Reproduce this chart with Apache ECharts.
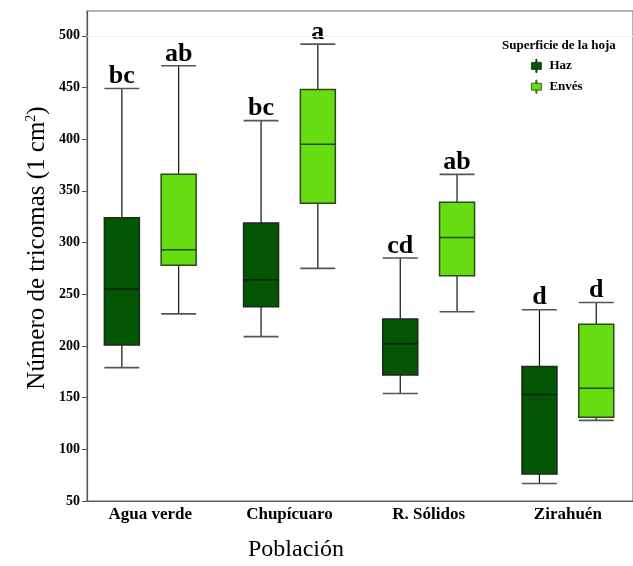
<!DOCTYPE html>
<html>
<head>
<meta charset="utf-8">
<script src="https://cdn.jsdelivr.net/npm/echarts@6/dist/echarts.min.js"></script>
<style>html,body{margin:0;padding:0;background:#fff}#c{width:633px;height:566px}</style>
</head>
<body>
<div id="c"></div>
<script>
const categories = ['Agua verde', 'Chupícuaro', 'R. Sólidos', 'Zirahuén'];
const seriesNames = ['Haz', 'Envés'];
// [min, Q1, median, Q3, max]
const hazValues = [
  [179, 201, 255, 324, 449],
  [209, 238, 264, 319, 418],
  [154, 172, 202, 226, 285],
  [67, 76, 153, 180, 235]
];
const envesValues = [
  [231, 278, 293, 366, 471],
  [275, 338, 395, 448, 492],
  [233, 268, 305, 339, 366],
  [128, 131, 159, 221, 242]
];
const hazLetters = ['bc', 'bc', 'cd', 'd'];
const envesLetters = ['ab', 'a', 'ab', 'd'];
const yTicks = [50, 100, 150, 200, 250, 300, 350, 400, 450, 500];

const SERIF = '"Liberation Serif", "DejaVu Serif", serif';
const OFFSET = 0.204;
const BOXW = 0.2514;

function buildData(values, letters, side) {
  return values.map((v, i) => [i + side * OFFSET, v[0], v[1], v[2], v[3], v[4], letters[i]]);
}

function makeRender(fill, border, medColor) {
  return function (params, api) {
    const x = api.value(0);
    const lo = api.coord([x, api.value(1)]);
    const q1 = api.coord([x, api.value(2)]);
    const md = api.coord([x, api.value(3)]);
    const q3 = api.coord([x, api.value(4)]);
    const hi = api.coord([x, api.value(5)]);
    const w = api.size([BOXW, 0])[0];
    const cx = lo[0];
    const l = cx - w / 2, r = cx + w / 2;
    return {
      type: 'group',
      children: [
        { type: 'line', shape: { x1: cx, y1: hi[1], x2: cx, y2: q3[1] }, style: { stroke: '#111', lineWidth: 1.2 } },
        { type: 'line', shape: { x1: cx, y1: q1[1], x2: cx, y2: lo[1] }, style: { stroke: '#111', lineWidth: 1.2 } },
        { type: 'line', shape: { x1: l, y1: hi[1], x2: r, y2: hi[1] }, style: { stroke: '#555', lineWidth: 1.6 } },
        { type: 'line', shape: { x1: l, y1: lo[1], x2: r, y2: lo[1] }, style: { stroke: '#555', lineWidth: 1.6 } },
        { type: 'rect', shape: { x: l, y: q3[1], width: w, height: q1[1] - q3[1] }, style: { fill: fill, stroke: border, lineWidth: 1.5 } },
        { type: 'line', shape: { x1: l, y1: md[1], x2: r, y2: md[1] }, style: { stroke: medColor, lineWidth: 1.5 } },
        { type: 'text', style: { text: api.value(6), x: cx, y: hi[1] + 1, align: 'center', verticalAlign: 'bottom', fontFamily: SERIF, fontSize: 26, fontWeight: 'bold', fill: '#000' } }
      ]
    };
  };
}

const chart = echarts.init(document.getElementById('c'), null, { renderer: 'canvas' });
const legendIcon = 'path://M4.4,0H5.6V3H4.4Z M0,3H10V10H0Z M4.4,10H5.6V13H4.4Z';
chart.setOption({
  animation: false,
  backgroundColor: '#fff',
  grid: { left: 87, right: -2, top: 11, bottom: 65, show: true, borderColor: '#666', borderWidth: 1, backgroundColor: 'transparent' },
  title: {
    text: 'Superficie de la hoja', left: 497, top: 34,
    textStyle: { fontFamily: SERIF, fontSize: 13, fontWeight: 'bold', color: '#000' }
  },
  legend: {
    orient: 'vertical', left: 526, top: 54, itemGap: 7,
    itemWidth: 10, itemHeight: 13,
    data: [
      { name: 'Haz', icon: legendIcon, itemStyle: { color: '#035603', borderColor: '#1b2b1b', borderWidth: 0.8 } },
      { name: 'Envés', icon: legendIcon, itemStyle: { color: '#66dd11', borderColor: '#2a4a1a', borderWidth: 0.8 } }
    ],
    textStyle: { fontFamily: SERIF, fontSize: 13, fontWeight: 'bold', color: '#000', padding: [0, 0, 0, 3] }
  },
  graphic: [
    {
      type: 'text', left: 248, top: 538, silent: true,
      style: { text: 'Población', fontFamily: SERIF, fontSize: 24, fill: '#000' }
    },
    {
      type: 'text', x: 37, y: 248, rotation: Math.PI / 2, silent: true,
      style: {
        text: '{a|Número de tricomas (1 cm}{s|2}{a|)}', align: 'center', verticalAlign: 'middle',
        rich: {
          a: { fontFamily: SERIF, fontSize: 25, fill: '#000' },
          s: { fontFamily: SERIF, fontSize: 14, fill: '#000', verticalAlign: 'top', padding: [0, 0, 10, 0] }
        }
      }
    }
  ],
  xAxis: {
    type: 'value', min: -0.4544, max: 3.468,
    axisLine: { show: true, onZero: false, lineStyle: { color: '#555', width: 1.2 } },
    axisTick: { show: false },
    splitLine: { show: false },
    axisLabel: {
      customValues: [0, 1, 2, 3],
      formatter: v => categories[Math.round(v)] || '',
      fontFamily: SERIF, fontSize: 17, fontWeight: 'bold', color: '#000', margin: 5
    }
  },
  yAxis: {
    type: 'value', min: 50, max: 524, interval: 50,
    axisLine: { show: true, onZero: false, lineStyle: { color: '#555', width: 1.2 } },
    axisTick: { show: true, length: 5, customValues: yTicks, lineStyle: { color: '#555' } },
    splitLine: { show: false },
    axisLabel: {
      customValues: yTicks,
      fontFamily: SERIF, fontSize: 14, fontWeight: 'bold', color: '#000', margin: 7
    }
  },
  series: [
    {
      type: 'line', data: [], z: 1, silent: true,
      markLine: { silent: true, symbol: 'none', label: { show: false }, lineStyle: { color: '#eeeeee', width: 1, type: 'solid' }, data: [{ yAxis: 500 }] }
    },
    {
      name: seriesNames[0], type: 'custom', z: 3, renderItem: makeRender('#035603', '#1b2b1b', '#0c1c0c'),
      itemStyle: { color: '#035603' },
      data: buildData(hazValues, hazLetters, -1),
      encode: { x: 0, y: [1, 2, 3, 4, 5] }
    },
    {
      name: seriesNames[1], type: 'custom', z: 3, renderItem: makeRender('#66dd11', '#2a4a1a', '#2a4a1a'),
      itemStyle: { color: '#66dd11' },
      data: buildData(envesValues, envesLetters, 1),
      encode: { x: 0, y: [1, 2, 3, 4, 5] }
    }
  ]
});
</script>
</body>
</html>
